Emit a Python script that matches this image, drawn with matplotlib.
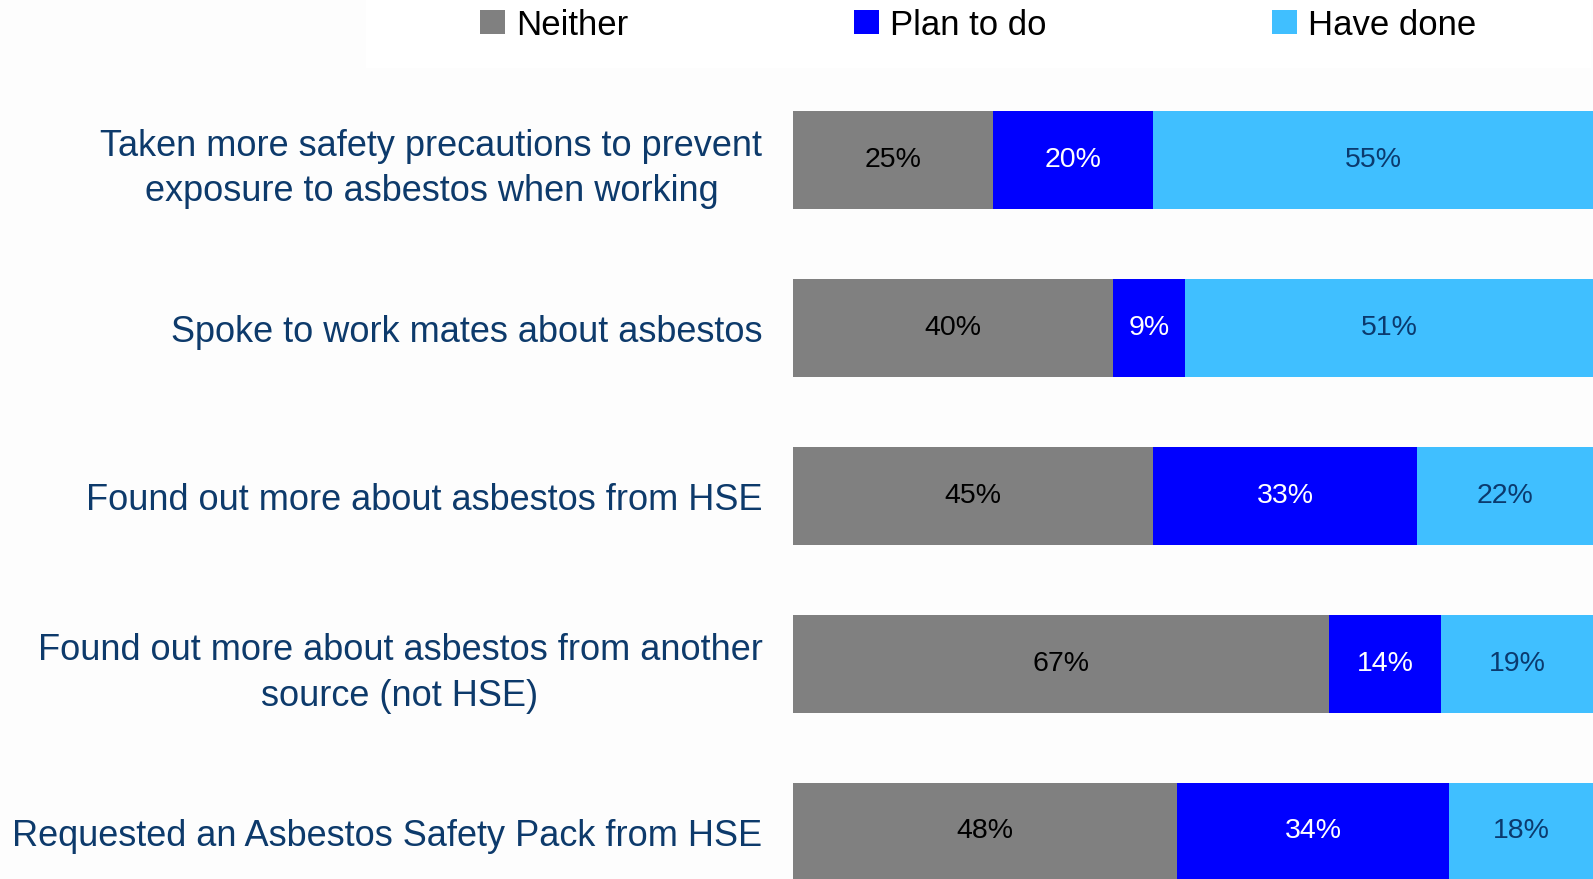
import numpy as np
import matplotlib.pyplot as plt
from matplotlib.patches import Rectangle

plt.rcParams['font.family'] = ['Liberation Sans', 'DejaVu Sans']

categories = [
    "Taken more safety precautions to prevent\nexposure to asbestos when working",
    "Spoke to work mates about asbestos",
    "Found out more about asbestos from HSE",
    "Found out more about asbestos from another\nsource (not HSE)",
    "Requested an Asbestos Safety Pack from HSE",
]
series_names = ["Neither", "Plan to do", "Have done"]
neither = [25, 40, 45, 67, 48]
plan_to_do = [20, 9, 33, 14, 34]
have_done = [55, 51, 22, 19, 18]

bar_colors = ['#808080', '#0000FF', '#40BFFF']
value_colors = ['#000000', '#FFFFFF', '#0B3A6E']
label_color = '#0D3A6B'

W, H = 1593, 879
fig = plt.figure(figsize=(W / 100, 8.795), dpi=100)
fig.patch.set_facecolor('#fdfdfd')

# white band behind the legend
fig.patches.append(Rectangle((366 / W, 1 - 68 / H), (1591 - 366) / W, 68 / H,
                             transform=fig.transFigure, facecolor='white',
                             edgecolor='none', zorder=0))

ax = fig.add_axes([793 / W, 0, 800 / W, 1])
ax.set_facecolor('none')

y = np.arange(len(categories))
left = np.zeros(len(categories))
containers = []
for vals, col, tcol in zip([neither, plan_to_do, have_done], bar_colors, value_colors):
    bc = ax.barh(y, vals, height=0.583, left=left, color=col, edgecolor='none')
    ax.bar_label(bc, labels=[f'{v}%' for v in vals], label_type='center',
                 color=tcol, fontsize=20.5)
    containers.append(bc)
    left += np.array(vals)

ax.set_xlim(0, 100)
# one bar slot = 168 px, first bar centred 160 px from the top
ax.set_ylim((H - 160) / 168, -160 / 168)
ax.set_xticks([])
ax.set_yticks(y)
ax.set_yticklabels(categories, fontsize=26, color=label_color,
                   multialignment='center', linespacing=1.38)
ax.tick_params(axis='y', length=0, pad=22)
for s in ax.spines.values():
    s.set_visible(False)

fig.legend(containers, series_names, ncol=3, loc='center left',
           bbox_to_anchor=(480 / W, 1 - 25 / H), frameon=False,
           fontsize=25, handlelength=0.72, handleheight=0.66,
           handletextpad=0.32, columnspacing=6.5, borderpad=0,
           borderaxespad=0)

fig.savefig('out.png', dpi=100, facecolor=fig.get_facecolor())
